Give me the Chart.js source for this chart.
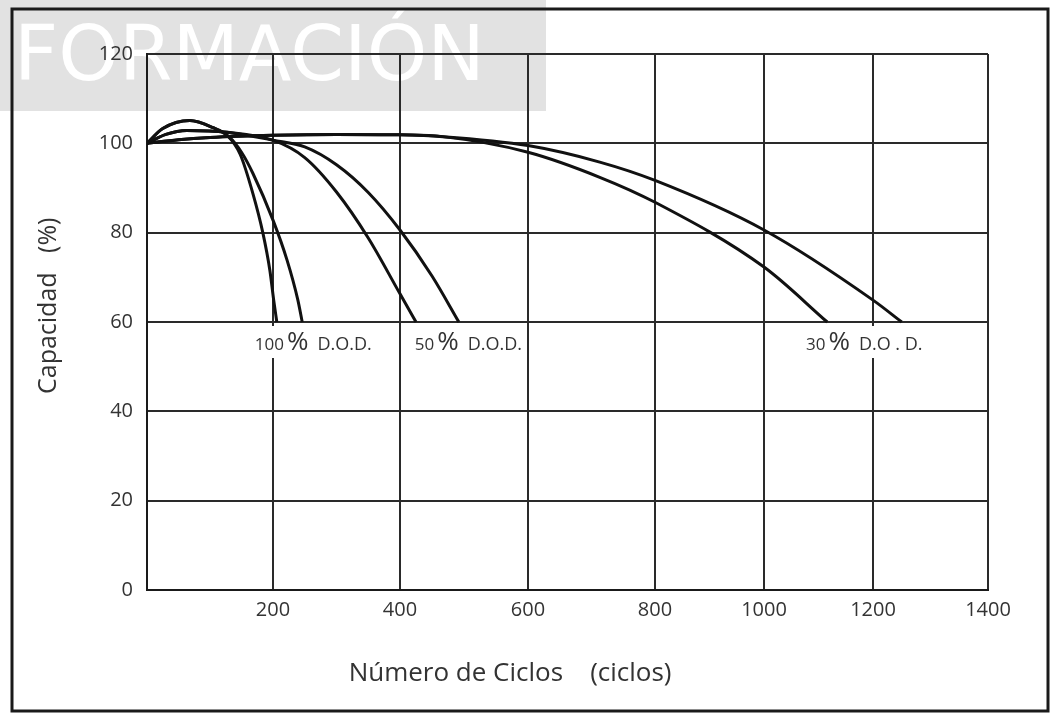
<!DOCTYPE html>
<html>
<head>
<meta charset="utf-8">
<title>Capacidad vs Número de Ciclos</title>
<script src="https://cdn.jsdelivr.net/npm/chart.js@4.4.1/dist/chart.umd.min.js"></script>
<style>
  html, body { margin: 0; padding: 0; background: #fff; }
  #wrap { position: relative; width: 1060px; height: 715px; }
</style>
</head>
<body>
<div id="wrap"><canvas id="dataChart"></canvas></div>
<script>
// ticks de los ejes
let xTicks = [0, 200, 400, 600, 800, 1000, 1200, 1400];
let yTicks = [0, 20, 40, 60, 80, 100, 120];

// 100% D.O.D. (dos curvas)
let ciclos100a = [0, 25, 68, 105, 127, 148, 168, 184, 195, 201, 206];
let cap100a    = [100, 103.3, 105.1, 103.5, 101.8, 97.5, 88.8, 79.9, 71.6, 65, 60];
let ciclos100b = [0, 25, 68, 105, 130, 150, 168, 200, 222, 239, 246];
let cap100b    = [100, 103.3, 105.1, 103.5, 101.5, 98, 93.3, 82.8, 73.9, 65, 60];

// 50% D.O.D.
let ciclos50a = [0, 30, 63, 127, 200, 250, 300, 350, 400, 425];
let cap50a    = [100, 102, 102.9, 102.5, 100.7, 96.8, 89.1, 78.8, 66.3, 60];
let ciclos50b = [0, 30, 63, 127, 200, 250, 300, 350, 400, 450, 492];
let cap50b    = [100, 102, 102.9, 102.5, 100.7, 99.2, 95.2, 89, 80.6, 70.3, 60];

// 30% D.O.D.
let ciclos30a = [0, 50, 100, 200, 300, 400, 467, 600, 713, 800, 1000, 1116];
let cap30a    = [100, 100.8, 101.3, 101.8, 102, 101.9, 101.5, 98, 92.4, 86.8, 72.3, 60];
let ciclos30b = [0, 50, 100, 200, 300, 400, 467, 600, 713, 800, 1000, 1200, 1250];
let cap30b    = [100, 100.8, 101.3, 101.8, 102, 101.9, 101.5, 99.5, 95.8, 91.7, 80.6, 64.9, 60];

// etiquetas sobre la linea de 60 %
let etiquetasNum = ['100', '50', '30'];
let etiquetasDod = ['D.O.D.', 'D.O.D.', 'D.O . D.'];
let etiquetasCiclos = [171, 423, 1077];

const FONT = "'Open Sans', 'Noto Sans', sans-serif";

function puntos(xs, ys) {
  return xs.map((x, i) => ({ x: x, y: ys[i] }));
}

// en el original la rejilla no es uniforme: los ultimos tramos son mas estrechos
const tramos = [126, 127, 128, 127, 109, 109, 115];

class CiclosScale extends Chart.LinearScale {
  static id = 'ciclos';
  static defaults = {};

  _decimal(value) {
    let total = tramos.reduce((a, b) => a + b, 0);
    let paso = xTicks[1] - xTicks[0];
    let i = Math.min(Math.max(Math.floor(value / paso), 0), tramos.length - 1);
    let acc = 0;
    for (let k = 0; k < i; k++) acc += tramos[k];
    acc += (value - i * paso) / paso * tramos[i];
    return acc / total;
  }

  getPixelForValue(value) {
    if (value === null || value === undefined || isNaN(value)) return NaN;
    return this.getPixelForDecimal(this._decimal(value));
  }

  getValueForPixel(pixel) {
    let dec = this.getDecimalForPixel(pixel);
    let total = tramos.reduce((a, b) => a + b, 0);
    let paso = xTicks[1] - xTicks[0];
    let acc = 0;
    for (let k = 0; k < tramos.length; k++) {
      let w = tramos[k] / total;
      if (dec <= acc + w || k === tramos.length - 1) {
        return (k + (dec - acc) / w) * paso;
      }
      acc += w;
    }
    return 0;
  }
}
Chart.register(CiclosScale);

// fondo gris con la marca de agua
const marcaAgua = {
  id: 'marcaAgua',
  beforeDraw(chart) {
    const ctx = chart.ctx;
    ctx.save();
    ctx.fillStyle = '#e2e2e2';
    ctx.fillRect(0, 0, 546, 111);
    ctx.fillStyle = '#ffffff';
    ctx.font = "77px 'DejaVu Sans'";
    ctx.textBaseline = 'alphabetic';
    ctx.fillText('FORMACIÓN', 14, 80);
    ctx.restore();
  }
};

// etiquetas "xx% D.O.D." y marco exterior
const etiquetas = {
  id: 'etiquetas',
  afterDraw(chart) {
    const ctx = chart.ctx;
    const xs = chart.scales.x, ys = chart.scales.y;
    const base = ys.getPixelForValue(60) + 28;
    ctx.save();
    etiquetasNum.forEach((num, i) => {
      let x0 = xs.getPixelForValue(etiquetasCiclos[i]);
      ctx.font = '17px ' + FONT;
      let wNum = ctx.measureText(num).width;
      ctx.font = '26px ' + FONT;
      let wPct = ctx.measureText('%').width;
      ctx.font = '18px ' + FONT;
      let wDod = ctx.measureText(etiquetasDod[i]).width;
      let total = wNum + 3 + wPct + 9 + wDod;
      ctx.fillStyle = '#ffffff';
      ctx.fillRect(x0 - 3, base - 24, total + 6, 32);
      ctx.fillStyle = '#333333';
      ctx.textBaseline = 'alphabetic';
      ctx.font = '17px ' + FONT;
      ctx.fillText(num, x0, base);
      ctx.font = '26px ' + FONT;
      ctx.fillText('%', x0 + wNum + 3, base);
      ctx.font = '18px ' + FONT;
      ctx.fillText(etiquetasDod[i], x0 + wNum + 3 + wPct + 9, base);
    });
    ctx.strokeStyle = '#1a1a1a';
    ctx.lineWidth = 3;
    ctx.strokeRect(12, 9, 1036, 702);
    ctx.restore();
  }
};

function serie(xs, ys) {
  return {
    data: puntos(xs, ys),
    borderColor: '#111111',
    borderWidth: 3,
    pointRadius: 0,
    fill: false,
    cubicInterpolationMode: 'monotone'
  };
}

const ctx = document.getElementById('dataChart').getContext('2d');
const chart = new Chart(ctx, {
  type: 'line',
  data: {
    datasets: [
      serie(ciclos100a, cap100a),
      serie(ciclos100b, cap100b),
      serie(ciclos50a, cap50a),
      serie(ciclos50b, cap50b),
      serie(ciclos30a, cap30a),
      serie(ciclos30b, cap30b)
    ]
  },
  options: {
    responsive: true,
    maintainAspectRatio: false,
    animation: false,
    layout: { padding: { left: 0, right: 72, top: 54, bottom: 0 } },
    plugins: { legend: { display: false }, tooltip: { enabled: false } },
    scales: {
      x: {
        type: 'ciclos',
        min: xTicks[0],
        max: xTicks[xTicks.length - 1],
        afterBuildTicks: s => { s.ticks = xTicks.map(v => ({ value: v })); },
        afterFit: s => { s.height = 125; },
        grid: { color: '#2a2a2a', lineWidth: 2, drawTicks: false },
        border: { color: '#1a1a1a', width: 2 },
        ticks: {
          autoSkip: false, maxRotation: 0, padding: 8,
          color: '#333333', font: { family: FONT, size: 20 },
          callback: v => v === 0 ? '' : v
        },
        title: {
          display: true,
          text: 'Número de Ciclos    (ciclos)' + ' '.repeat(17),
          color: '#333333',
          font: { family: FONT, size: 26 },
          padding: { top: 0, bottom: 26 }
        }
      },
      y: {
        min: yTicks[0],
        max: yTicks[yTicks.length - 1],
        afterBuildTicks: s => { s.ticks = yTicks.map(v => ({ value: v })); },
        afterFit: s => { s.width = 147; },
        grid: { color: '#2a2a2a', lineWidth: 2, drawTicks: false },
        border: { color: '#1a1a1a', width: 2 },
        ticks: {
          padding: 14, color: '#333333', font: { family: FONT, size: 20 }
        },
        title: {
          display: true,
          text: ' '.repeat(5) + 'Capacidad   (%)',
          color: '#333333',
          font: { family: FONT, size: 25 },
          padding: { top: 34, bottom: 0 }
        }
      }
    }
  },
  plugins: [marcaAgua, etiquetas]
});
</script>
</body>
</html>
